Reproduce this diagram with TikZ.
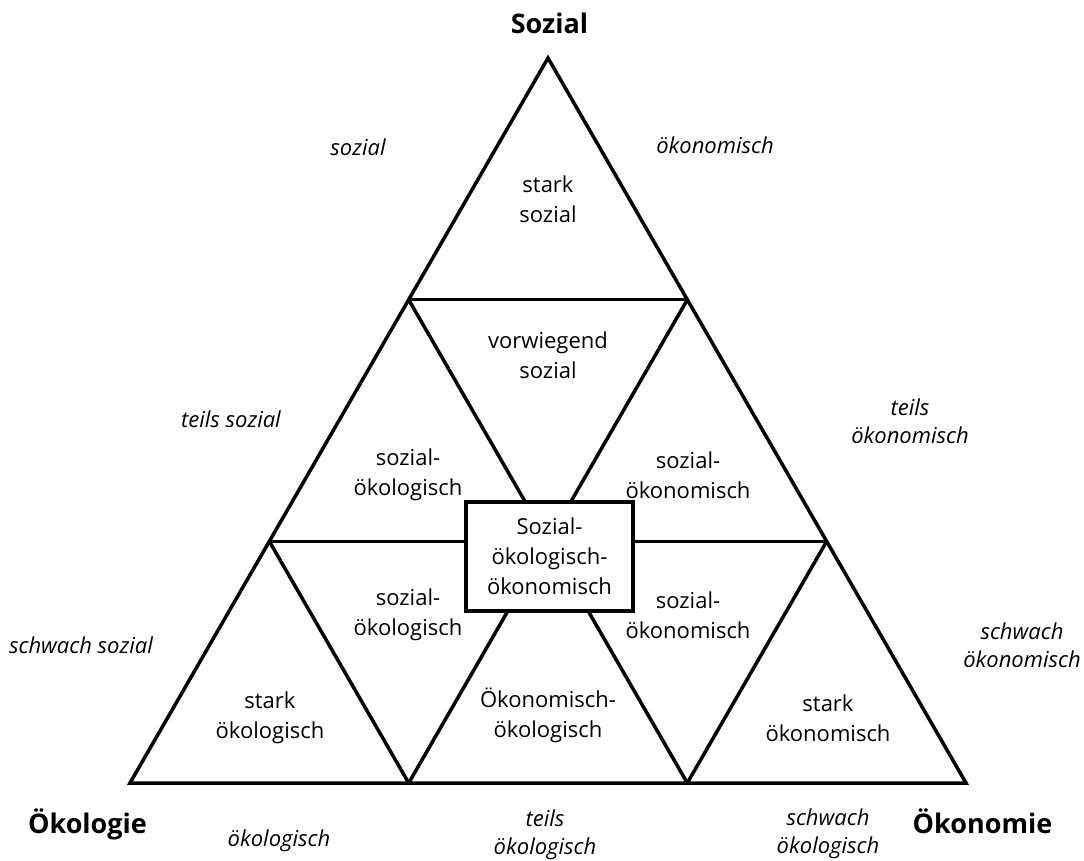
\documentclass[tikz,border=0pt]{standalone}
\usepackage{fontspec}
\setmainfont{Open Sans}
\begin{document}
\begin{tikzpicture}[x=1pt,y=-1pt,
  edge/.style={line width=3.5pt,line join=miter},
  lbl/.style={font=\fontsize{22}{30}\selectfont,align=center,inner sep=0pt},
  ital/.style={font=\fontsize{22}{28}\selectfont\itshape,align=center,inner sep=0pt},
  corner/.style={font=\fontsize{27}{32}\selectfont\bfseries,inner sep=0pt,anchor=base}]
\useasboundingbox (0,0) rectangle (1084,860);
\coordinate (A) at (548,58);
\coordinate (B) at (130,783);
\coordinate (C) at (966,783);
\coordinate (L1) at (408.7,299.7);
\coordinate (R1) at (687.3,299.7);
\coordinate (L2) at (269.3,541.3);
\coordinate (M2) at (548,541.3);
\coordinate (R2) at (826.7,541.3);
\coordinate (B1) at (408.7,783);
\coordinate (B2) at (687.3,783);
\draw[edge] (A) -- (B) -- (C) -- cycle;
\draw[edge] (L1) -- (R1);
\draw[edge] (L2) -- (R2);
\draw[edge] (L1) -- (B2);
\draw[edge] (R1) -- (B1);
\draw[edge] (L2) -- (B1);
\draw[edge] (R2) -- (B2);
\node[draw,line width=3.5pt,fill=white,minimum width=167pt,minimum height=109pt,inner sep=0pt] (box) at (549.5,556.5) {};
\node[lbl] (center) at (box) {Sozial-\\ökologisch-\\ökonomisch};
\node[lbl] (t1) at (548,199) {stark\\sozial};
\node[lbl] (t2) at (548,355) {vorwiegend\\sozial};
\node[lbl] (t3) at (408,475) {sozial-\\ökologisch};
\node[lbl] (t4) at (688,475) {sozial-\\ökonomisch};
\node[lbl] (t5) at (408,615) {sozial-\\ökologisch};
\node[lbl] (t6) at (688,615) {sozial-\\ökonomisch};
\node[lbl] (t7) at (548,715) {Ökonomisch-\\ökologisch};
\node[lbl] (t8) at (270,718) {stark\\ökologisch};
\node[lbl] (t9) at (828,718) {stark\\ökonomisch};
\node[corner] (soz) at (549.5,33) {Sozial};
\node[corner] (oeko) at (87.5,833) {Ökologie};
\node[corner] (oekn) at (982.5,833) {Ökonomie};
\node[ital,anchor=base] (i1) at (358,155) {sozial};
\node[ital,anchor=base] (i2) at (715,153) {ökonomisch};
\node[ital,anchor=base] (i3) at (231,427) {teils sozial};
\node[ital] (i4) at (910,421) {teils\\ökonomisch};
\node[ital,anchor=base] (i5) at (81,653) {schwach sozial};
\node[ital] (i6) at (1022,645) {schwach\\ökonomisch};
\node[ital,anchor=base] (i7) at (279,846) {ökologisch};
\node[ital] (i8) at (545,835) {teils\\ökologisch};
\node[ital] (i9) at (828,834) {schwach\\ökologisch};
\end{tikzpicture}
\end{document}
